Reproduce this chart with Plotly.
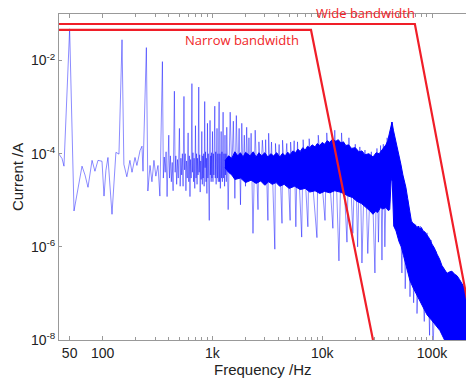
import plotly.graph_objects as go

# ---------------- data ----------------
# low-frequency part of the spectrum (40 Hz - 340 Hz)
lf_freq = [40, 42.6, 44.4, 50, 54.8, 64.8, 69, 73.5, 80, 85, 90.6, 98.6, 102.8, 107, 111.7,
           121.6, 132, 140.7, 150, 156, 166, 177, 185, 197, 205, 219, 228, 233, 250, 258,
           270, 281, 293, 305, 319, 332]
lf_curr = [9.8e-5, 7.9e-5, 5.4e-5, 4.8e-2, 5.9e-6, 5.4e-5, 3.5e-5, 1.9e-5, 7.2e-5, 4.2e-5,
           7.2e-5, 6.9e-5, 1.23e-5, 4.4e-5, 8.3e-5, 5.0e-6, 1.07e-4, 9.8e-5, 2.8e-2, 5.9e-5,
           3.2e-5, 7.2e-5, 4.0e-5, 8.3e-5, 5.6e-5, 1.17e-4, 1.45e-4, 4.2e-5, 1.9e-2, 1.58e-5,
           5.6e-5, 2.5e-5, 7.2e-5, 3.3e-5, 5.6e-5, 1.23e-5]

# mid part with the mains harmonics (350 Hz - 1.4 kHz)
mid_freq = [350, 357, 364, 371, 378, 386, 394, 400, 406, 414,
            422, 430, 438, 450, 457, 464, 472, 480, 488, 500,
            508, 516, 524, 532, 540, 550, 557, 565, 573, 581,
            590, 600, 608, 616, 624, 632, 640, 650, 657, 665,
            673, 681, 690, 700, 708, 716, 724, 732, 740, 750,
            757, 765, 773, 781, 790, 800, 808, 816, 824, 832,
            840, 850, 857, 865, 873, 881, 890, 900, 908, 916,
            935, 942, 950, 957, 965, 973, 981, 990, 1000, 1010,
            1020, 1030, 1040, 1050, 1060, 1070, 1080, 1090, 1100, 1110,
            1120, 1130, 1140, 1150, 1160, 1170, 1180, 1190, 1200, 1210,
            1220, 1230, 1240, 1250, 1262, 1275, 1290, 1300, 1312, 1325,
            1337, 1350, 1362, 1375, 1390]
mid_curr = [9.5e-3, 3.0e-5, 8.5e-5, 4.0e-5, 1.1e-4, 1.2e-5, 7.0e-5, 2.5e-4, 3.0e-5, 9.0e-5,
            2.5e-5, 6.5e-5, 1.6e-5, 2.2e-3, 4.0e-5, 9.0e-5, 2.2e-5, 7.5e-5, 3.0e-5, 3.5e-4,
            2.0e-5, 8.0e-5, 3.5e-5, 1.0e-4, 2.0e-5, 1.7e-3, 4.5e-5, 1.0e-4, 1.6e-5, 7.0e-5,
            3.0e-5, 2.8e-4, 2.5e-5, 9.0e-5, 1.2e-5, 7.5e-5, 3.0e-5, 3.2e-3, 4.0e-5, 1.05e-4,
            2.5e-5, 8.0e-5, 1.8e-5, 4.0e-4, 3.0e-5, 1.0e-4, 2.2e-5, 8.0e-5, 3.5e-5, 2.7e-3,
            4.0e-5, 9.5e-5, 1.5e-5, 7.0e-5, 2.8e-5, 3.0e-4, 2.2e-5, 9.0e-5, 3.0e-5, 1.0e-4,
            2.0e-5, 1.32e-3, 5.0e-5, 1.1e-4, 2.5e-5, 8.0e-5, 1.4e-5, 4.5e-4, 3.0e-5, 1.0e-4,
            3.7e-6, 6.0e-5, 5.2e-4, 3.5e-5, 9.0e-5, 2.5e-5, 1.05e-4, 3.0e-5, 3.0e-4, 2.5e-5,
            1.0e-4, 3.5e-5, 9.0e-5, 1.05e-3, 3.0e-5, 1.1e-4, 2.2e-5, 8.0e-5, 3.5e-4, 3.0e-5,
            1.0e-4, 2.5e-5, 9.0e-5, 1.3e-3, 2.5e-5, 1.0e-4, 1.8e-5, 9.0e-5, 3.0e-4, 3.0e-5,
            1.1e-4, 2.5e-5, 9.0e-5, 7.8e-4, 3.0e-5, 1.0e-4, 2.0e-5, 2.5e-4, 3.5e-5, 1.0e-4,
            2.5e-5, 3.7e-4, 4.0e-5, 1.0e-4, 6.3e-6]

# high-frequency spikes sticking out of the dense band (1.45 kHz - 110 kHz)
hf_freq = [1450, 1500, 1550, 1600, 1650, 1700, 1750, 1800, 1850, 1900, 1950, 2000, 2050, 2100,
           2150, 2200, 2250, 2340, 2450, 2600, 2650, 2750, 2850, 3000, 3050, 3200, 3250, 3350,
           3450, 3700, 3750, 3900, 4050, 4300, 4350, 4550, 4750, 5100, 5150, 5400, 5550, 5750,
           5950, 6500, 6700, 7400, 7600, 8950, 9200, 10600, 11000, 12500, 13000, 14200, 15000,
           16800, 17500, 19000, 20000, 21000, 22000, 23000, 24500, 26000, 28000, 30200, 31500,
           32500, 34000, 35000, 36000, 37200, 39000, 41000, 43000, 45000, 50000, 53200, 55000,
           57000, 60000, 63000, 66000, 68000, 71000, 73000, 78000, 85000, 90000, 95000, 98000,
           102000, 110000]
hf_curr = [7.8e-4, 4.0e-5, 5.0e-4, 1.1e-5, 6.6e-4, 3.0e-5, 3.5e-4, 8.0e-6, 4.5e-4, 3.0e-5,
           2.5e-4, 2.0e-5, 3.7e-4, 3.0e-5, 2.2e-4, 3.0e-5, 2.75e-4, 1.95e-6, 3.2e-4, 6.3e-6,
           1.8e-4, 3.0e-5, 1.95e-4, 3.0e-5, 2.0e-4, 3.7e-6, 2.75e-4, 3.0e-5, 1.78e-4, 8.9e-7,
           1.66e-4, 3.0e-5, 1.58e-4, 3.2e-6, 1.95e-4, 3.0e-5, 1.66e-4, 3.7e-6, 1.78e-4, 3.0e-5,
           1.9e-4, 2.7e-6, 1.8e-4, 1.62e-6, 2.0e-4, 2.7e-6, 2.1e-4, 1.58e-6, 2.5e-4, 3.7e-6,
           2.8e-4, 2.5e-6, 3.2e-4, 5.0e-7, 2.8e-4, 1.26e-6, 2.2e-4, 1.95e-6, 1.6e-4, 1.0e-6,
           1.4e-4, 4.5e-7, 1.2e-4, 7.2e-7, 1.1e-4, 2.75e-7, 1.3e-4, 1.26e-6, 1.5e-4, 5.2e-7,
           1.6e-4, 1.0e-6, 2.2e-4, 3.0e-5, 4.8e-4, 3.0e-5, 8.0e-5, 2.75e-7, 3.0e-5, 1.26e-7,
           1.0e-5, 8.5e-8, 3.5e-6, 6.3e-8, 3.0e-6, 3.7e-8, 2.8e-6, 2.5e-8, 2.0e-6, 1.26e-8,
           1.4e-6, 6.3e-9, 8.0e-7]

# dense noise band: upper and lower envelope
band_top_freq = [1300, 1400, 1500, 1600, 1700, 1800, 1900, 2000, 2200, 2350, 2500, 2650, 2800,
                 3000, 3200, 3400, 3600, 3850, 4100, 4350, 4600, 4850, 5100, 5400, 5700, 6000,
                 6300, 6650, 7000, 7350, 7700, 8100, 8600, 9000, 9500, 10000, 10500, 11100,
                 11700, 12400, 13300, 14000, 14800, 15600, 16400, 17400, 18500, 20000, 21600,
                 23000, 24500, 26600, 29000, 31000, 33000, 35700, 38000, 39500, 40500, 42000,
                 43200, 44500, 46000, 47500, 50000, 52000, 54300, 56000, 57800, 60000, 62900,
                 65000, 67000, 70000, 72900, 75000, 77600, 80000, 83000, 86000, 89900, 95000,
                 99800, 105000, 111000, 117000, 123000, 130000, 137000, 144000, 152000, 160000,
                 169000, 178000, 187000, 198000, 210000]
band_top_curr = [7.0e-5, 9.0e-5, 8.0e-5, 1.1e-4, 9.0e-5, 1.05e-4, 8.5e-5, 1.07e-4, 9.0e-5,
                 1.1e-4, 8.5e-5, 1.05e-4, 9.0e-5, 1.05e-4, 8.5e-5, 1.0e-4, 9.0e-5, 1.05e-4,
                 8.5e-5, 1.02e-4, 9.0e-5, 1.08e-4, 9.5e-5, 1.15e-4, 1.05e-4, 1.25e-4, 1.12e-4,
                 1.35e-4, 1.2e-4, 1.45e-4, 1.35e-4, 1.55e-4, 1.4e-4, 1.65e-4, 1.5e-4, 1.75e-4,
                 1.6e-4, 1.9e-4, 1.75e-4, 2.05e-4, 1.85e-4, 2.0e-4, 1.7e-4, 1.8e-4, 1.5e-4,
                 1.55e-4, 1.3e-4, 1.35e-4, 1.1e-4, 1.15e-4, 9.5e-5, 1.0e-4, 8.5e-5, 1.05e-4,
                 1.0e-4, 1.3e-4, 1.55e-4, 1.9e-4, 2.5e-4, 3.55e-4, 4.8e-4, 3.2e-4, 2.3e-4,
                 1.5e-4, 8.9e-5, 6.0e-5, 3.5e-5, 2.6e-5, 1.9e-5, 1.1e-5, 5.0e-6, 3.5e-6, 3.2e-6,
                 3.0e-6, 2.6e-6, 2.8e-6, 2.4e-6, 2.6e-6, 2.2e-6, 2.1e-6, 1.8e-6, 1.5e-6, 1.15e-6,
                 9.5e-7, 7.0e-7, 5.5e-7, 4.0e-7, 3.3e-7, 2.7e-7, 2.9e-7, 3.0e-7, 2.6e-7, 2.4e-7,
                 2.0e-7, 1.6e-7, 1.3e-7, 1.05e-7]

band_bot_freq = [1300, 1400, 1500, 1600, 1800, 2000, 2250, 2500, 2750, 3000, 3250, 3500, 3800,
                 4100, 4500, 5000, 5600, 6300, 7000, 7700, 8600, 9500, 10500, 11700, 13000,
                 14500, 15700, 17000, 18800, 20700, 22800, 25000, 27000, 29000, 30500, 32000,
                 34000, 35700, 38000, 40000, 41200, 42500, 43400, 44800, 47000, 50000, 52500,
                 55000, 58500, 62900, 67500, 72900, 80000, 89900, 100000, 110000, 118000,
                 130000, 146000, 210000]
band_bot_curr = [5.0e-5, 4.0e-5, 3.5e-5, 2.8e-5, 3.0e-5, 2.4e-5, 2.7e-5, 2.3e-5, 2.6e-5,
                 2.1e-5, 2.5e-5, 2.2e-5, 2.4e-5, 2.0e-5, 2.2e-5, 1.8e-5, 2.0e-5, 1.7e-5,
                 1.8e-5, 1.5e-5, 1.6e-5, 1.4e-5, 1.55e-5, 1.45e-5, 1.6e-5, 1.5e-5, 1.4e-5,
                 1.25e-5, 1.15e-5, 9.5e-6, 8.5e-6, 7.0e-6, 6.0e-6, 5.0e-6, 5.8e-6, 5.5e-6,
                 7.0e-6, 6.5e-6, 7.0e-6, 6.0e-6, 6.3e-6, 3.0e-5, 2.5e-5, 2.8e-6, 2.2e-6,
                 1.3e-6, 1.0e-6, 6.5e-7, 4.0e-7, 1.9e-7, 1.3e-7, 8.5e-8, 6.0e-8, 3.5e-8,
                 2.6e-8, 2.0e-8, 1.6e-8, 1.0e-8, 6.3e-9, 3.0e-9]

# bandwidth limits
narrow_freq = [40, 7900, 29000]
narrow_curr = [0.0454, 0.0454, 1e-8]
wide_freq = [40, 69800, 245000]
wide_curr = [0.061, 0.061, 1e-8]

x_tick_vals = [50, 100, 1000, 10000, 100000]
x_tick_text = ["50", "100", "1k", "10k", "100k"]
x_minor_vals = [200, 300, 400, 500, 600, 700, 800, 900,
                2000, 3000, 4000, 5000, 6000, 7000, 8000, 9000,
                20000, 30000, 40000, 50000, 60000, 70000, 80000, 90000, 200000]
y_tick_vals = [1e-8, 1e-6, 1e-4, 1e-2]
y_tick_text = ["10<sup>-8</sup>", "10<sup>-6</sup>", "10<sup>-4</sup>", "10<sup>-2</sup>"]

# ---------------- figure ----------------
RED = "#f01e28"
BLUE = "#0000ff"
fig = go.Figure()

spec_freq = lf_freq + mid_freq + hf_freq
spec_curr = lf_curr + mid_curr + hf_curr
fig.add_trace(go.Scatter(x=spec_freq, y=spec_curr, mode="lines",
                         line=dict(color="rgba(0,0,255,0.45)", width=1),
                         showlegend=False, hoverinfo="skip"))

poly_x = band_top_freq + band_bot_freq[::-1]
poly_y = band_top_curr + band_bot_curr[::-1]
fig.add_trace(go.Scatter(x=poly_x, y=poly_y, mode="lines", fill="toself",
                         fillcolor=BLUE, line=dict(color=BLUE, width=1),
                         showlegend=False, hoverinfo="skip"))

fig.add_trace(go.Scatter(x=narrow_freq, y=narrow_curr, mode="lines",
                         line=dict(color=RED, width=2.2), showlegend=False))
fig.add_trace(go.Scatter(x=wide_freq, y=wide_curr, mode="lines",
                         line=dict(color=RED, width=2.2), showlegend=False))

axis_font = dict(family="Liberation Sans, Arial, sans-serif", size=14, color="#222")

fig.update_xaxes(type="log", range=[1.60206, 5.3096], showgrid=False, zeroline=False,
                 showline=True, linecolor="#999", linewidth=1, mirror="allticks",
                 ticks="inside", ticklen=4, tickcolor="#999",
                 tickvals=x_tick_vals, ticktext=x_tick_text, tickfont=axis_font,
                 minor=dict(ticks="inside", ticklen=3, tickcolor="#999",
                            tickvals=x_minor_vals, showgrid=False))
fig.update_yaxes(type="log", range=[-8, -1], showgrid=False, zeroline=False,
                 showline=True, linecolor="#999", linewidth=1,
                 ticks="inside", ticklen=3, tickcolor="#999",
                 tickvals=y_tick_vals, ticktext=y_tick_text, tickfont=axis_font)

fig.add_annotation(text="Wide bandwidth", xref="paper", yref="paper", x=0.754, y=1.003,
                   showarrow=False, xanchor="center", yanchor="middle",
                   font=dict(family="Open Sans, sans-serif", size=13, color=RED))
fig.add_annotation(text="Narrow bandwidth", xref="paper", yref="paper", x=0.4496, y=0.92,
                   showarrow=False, xanchor="center", yanchor="middle",
                   font=dict(family="Open Sans, sans-serif", size=13, color=RED))
fig.add_annotation(text="Frequency /Hz", xref="paper", yref="paper", x=0.5, y=-0.092,
                   showarrow=False, xanchor="center", yanchor="middle",
                   font=dict(family="Liberation Sans, Arial, sans-serif", size=15, color="#222"))
fig.add_annotation(text="Current /A", xref="paper", yref="paper", x=-0.103, y=0.5,
                   showarrow=False, xanchor="center", yanchor="middle", textangle=-90,
                   font=dict(family="Liberation Sans, Arial, sans-serif", size=15, color="#222"))

fig.update_layout(width=466, height=380, margin=dict(l=59, r=0, t=14, b=40),
                  plot_bgcolor="white", paper_bgcolor="white", showlegend=False)

fig.write_html("out.html")
